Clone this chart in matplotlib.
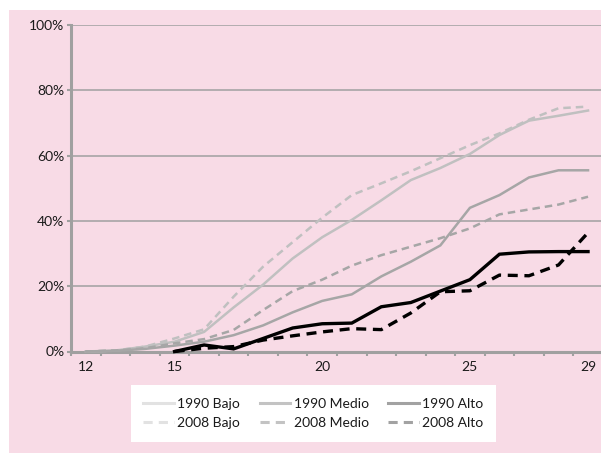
import numpy as np
import matplotlib
matplotlib.use("Agg")
import matplotlib.pyplot as plt
from matplotlib.lines import Line2D
from matplotlib.patches import Rectangle

plt.rcParams['font.family'] = ['Lato', 'DejaVu Sans']

# Edad (años) y porcentaje acumulado por cohorte y nivel
ages = list(range(12, 30))
bajo_1990 = [0, 0.3, 1.5, 3.0, 6.0, 13.5, 20.5, 28.5, 35.0, 40.3, 46.3, 52.5, 56.2, 60.5, 66.3, 70.7, 72.2, 73.8]
bajo_2008 = [0, 0.3, 1.5, 4.0, 6.8, 16.8, 26.0, 33.5, 41.0, 47.9, 51.5, 55.2, 59.2, 63.2, 66.8, 71.0, 74.5, 75.0]
medio_1990 = [0, 0.2, 0.8, 1.8, 3.0, 5.0, 8.0, 12.0, 15.5, 17.5, 23.0, 27.5, 32.5, 44.0, 47.9, 53.3, 55.5, 55.5]
medio_2008 = [0, 0.3, 1.0, 2.5, 3.8, 6.6, 12.7, 18.5, 22.0, 26.3, 29.5, 32.1, 34.7, 37.7, 42.0, 43.5, 45.0, 47.4]
alto_1990 = [np.nan, np.nan, np.nan, 0, 2.0, 0.8, 4.0, 7.2, 8.5, 8.7, 13.7, 15.0, 18.5, 22.0, 29.8, 30.5, 30.6, 30.6]
alto_2008 = [np.nan, np.nan, np.nan, 0, 1.0, 1.5, 3.5, 4.8, 6.0, 7.0, 6.7, 11.8, 18.3, 18.6, 23.4, 23.2, 26.5, 36.4]

xtick_ages = [12, 15, 20, 25, 29]
ytick_vals = [0, 20, 40, 60, 80, 100]

W, H = 601, 453
fig = plt.figure(figsize=(W / 100, H / 100), dpi=100, facecolor='white')
fig.patches.append(Rectangle((9 / W, 0), 1 - 9 / W, 1 - 10 / H, transform=fig.transFigure,
                             facecolor='#f8dbe6', edgecolor='none', zorder=-10))

x0, x1 = 71.2, 602.8
y0, y1 = 351.5, 25.0
ax = fig.add_axes([x0 / W, 1 - y0 / H, (x1 - x0) / W, (y0 - y1) / H])
ax.set_facecolor('none')

axis_gray = '#a0a0a0'
ax.set_xlim(11.5, 29.5)
ax.set_ylim(0, 100)

for s in ['top', 'right']:
    ax.spines[s].set_visible(False)
for s in ['left', 'bottom']:
    ax.spines[s].set_color(axis_gray)
    ax.spines[s].set_linewidth(2.2)

ax.set_yticks(ytick_vals)
ax.set_yticklabels([f"{v}%" for v in ytick_vals])
ax.set_xticks(xtick_ages)
ax.set_xticklabels([str(a) for a in xtick_ages])
ax.set_xticks(np.arange(11.5, 30, 1), minor=True)
ax.tick_params(axis='x', which='major', length=0, pad=7, labelsize=10, colors='#1a1a1a')
ax.tick_params(axis='x', which='minor', length=3, width=1.5, color=axis_gray, direction='out')
ax.tick_params(axis='y', which='major', length=3, width=1.5, color=axis_gray, pad=2,
               labelsize=10, labelcolor='#1a1a1a')

for v in ytick_vals[1:]:
    ax.axhline(v, color=axis_gray, lw=1.1, zorder=1)

light = '#c0c0c0'
mid = '#a6a6a6'
dark = '#000000'
series = [
    (bajo_1990, light, '-', 1.8),
    (bajo_2008, light, '--', 1.8),
    (medio_1990, mid, '-', 1.8),
    (medio_2008, mid, '--', 1.8),
    (alto_1990, dark, '-', 2.4),
    (alto_2008, dark, '--', 2.4),
]
for vals, col, ls, lw in series:
    kw = dict(dashes=[3, 2]) if ls == '--' else {}
    ax.plot(ages, vals, color=col, lw=lw, ls=ls, zorder=4, clip_on=False,
            solid_joinstyle='miter', **kw)

# Leyenda
leg_cols = {'Bajo': '#e2e2e2', 'Medio': '#c3c3c3', 'Alto': '#a2a2a2'}
handles, labels = [], []
for nivel in ['Bajo', 'Medio', 'Alto']:
    for year, ls in [('1990', '-'), ('2008', '--')]:
        kw = dict(dashes=[3, 2]) if ls == '--' else {}
        handles.append(Line2D([], [], color=leg_cols[nivel], lw=2.2, ls=ls, **kw))
        labels.append(f"{year} {nivel}")
leg = fig.legend(handles, labels, ncol=3, loc='center',
                 bbox_to_anchor=((127 + 500) / 2 / W, 1 - 413.5 / H),
                 bbox_transform=fig.transFigure, frameon=True, fancybox=False,
                 edgecolor='none', facecolor='white', framealpha=1, fontsize=10,
                 handlelength=2.2, handletextpad=0.25, columnspacing=1.4,
                 labelspacing=0.55, borderpad=0.9)
for t in leg.get_texts():
    t.set_color('#1a1a1a')

fig.savefig('out.png', dpi=100, facecolor=fig.get_facecolor())
